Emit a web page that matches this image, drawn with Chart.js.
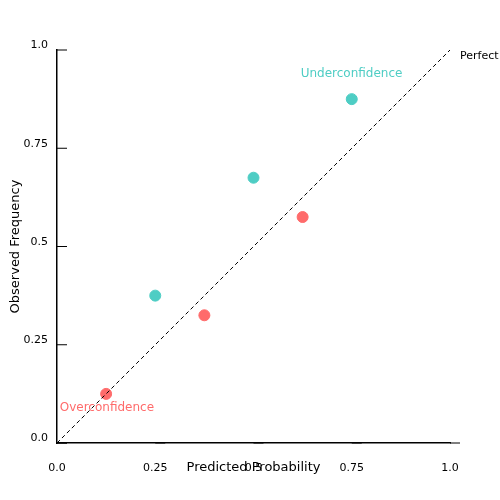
<!DOCTYPE html>
<html>
<head>
<script src="https://cdn.jsdelivr.net/npm/chart.js@4"></script>
<style>body{margin:0;background:#fff}#wrap{width:500px;height:500px}</style>
</head>
<body>
<div id="wrap"><canvas id="myChart"></canvas></div>
<script>
const tickValues = [0, 0.25, 0.5, 0.75, 1.0];
const tickLabels = ['0.0', '0.25', '0.5', '0.75', '1.0'];
const underX = [0.25, 0.5, 0.75];
const underY = [0.375, 0.675, 0.875];
const overX = [0.125, 0.375, 0.625];
const overY = [0.125, 0.325, 0.575];
const diagonal = [0, 1];

// labels, axis titles and notes drawn at scale positions
const annotate = {
    id: 'annotate',
    afterDraw(chart) {
        const c = chart.ctx, x = chart.scales.x, y = chart.scales.y;
        c.save();
        c.font = '11px "DejaVu Sans"';
        c.fillStyle = '#000';
        c.strokeStyle = '#000';
        c.lineWidth = 1;
        tickValues.forEach((v, i) => {
            const py = y.getPixelForValue(v);
            c.beginPath(); c.moveTo(x.left, py); c.lineTo(x.left + 10, py); c.stroke();
            c.textAlign = 'right'; c.textBaseline = 'bottom';
            c.fillText(tickLabels[i], x.left - 9, py + 1);
            const px = x.getPixelForValue(v);
            c.beginPath(); c.moveTo(px, y.bottom); c.lineTo(px + 10, y.bottom); c.stroke();
            c.textAlign = 'center'; c.textBaseline = 'top';
            c.fillText(tickLabels[i], px, y.bottom + 20);
        });
        c.font = '13px "DejaVu Sans"';
        c.textAlign = 'center'; c.textBaseline = 'middle';
        c.fillText('Predicted Probability', x.getPixelForValue(0.5), y.bottom + 25);
        c.save();
        c.translate(16, y.getPixelForValue(0.5));
        c.rotate(-Math.PI / 2);
        c.fillText('Observed Frequency', 0, 0);
        c.restore();
        c.font = '11px "DejaVu Sans"';
        c.textAlign = 'left';
        c.fillText('Perfect', x.getPixelForValue(1) + 10, y.getPixelForValue(1) + 6);
        c.font = '12px "DejaVu Sans"';
        c.fillStyle = '#4ECDC4';
        c.fillText('Underconfidence', x.getPixelForValue(0.62), y.getPixelForValue(0.94));
        c.fillStyle = '#FF6B6B';
        c.fillText('Overconfidence', x.getPixelForValue(0.007), y.getPixelForValue(0.09));
        c.restore();
    }
};

function mainEvent() {
    const ctx = document.querySelector('#myChart');
    new Chart(ctx, {
        type: 'scatter',
        data: {
            datasets: [
                {
                    type: 'line',
                    data: diagonal.map(v => ({ x: v, y: v })),
                    borderColor: '#000',
                    borderWidth: 1,
                    borderDash: [4, 3],
                    pointRadius: 0
                },
                {
                    data: underX.map((v, i) => ({ x: v, y: underY[i] })),
                    backgroundColor: '#4ECDC4',
                    borderColor: '#4ECDC4',
                    pointRadius: 5.5
                },
                {
                    data: overX.map((v, i) => ({ x: v, y: overY[i] })),
                    backgroundColor: '#FF6B6B',
                    borderColor: '#FF6B6B',
                    pointRadius: 5.5
                }
            ]
        },
        options: {
            responsive: false,
            animation: false,
            devicePixelRatio: 1,
            layout: { padding: { left: 49, right: 50, top: 50, bottom: 49 } },
            plugins: { legend: { display: false }, tooltip: { enabled: false } },
            scales: {
                x: {
                    type: 'linear', min: 0, max: 1,
                    grid: { display: false },
                    border: { display: true, color: '#000', width: 1.5 },
                    ticks: { display: false }
                },
                y: {
                    type: 'linear', min: 0, max: 1,
                    grid: { display: false },
                    border: { display: true, color: '#000', width: 1.5 },
                    ticks: { display: false }
                }
            }
        },
        plugins: [annotate]
    });
}
const cv = document.querySelector('#myChart');
cv.width = 500; cv.height = 500;
document.addEventListener('DOMContentLoaded', () => mainEvent());
</script>
</body>
</html>
